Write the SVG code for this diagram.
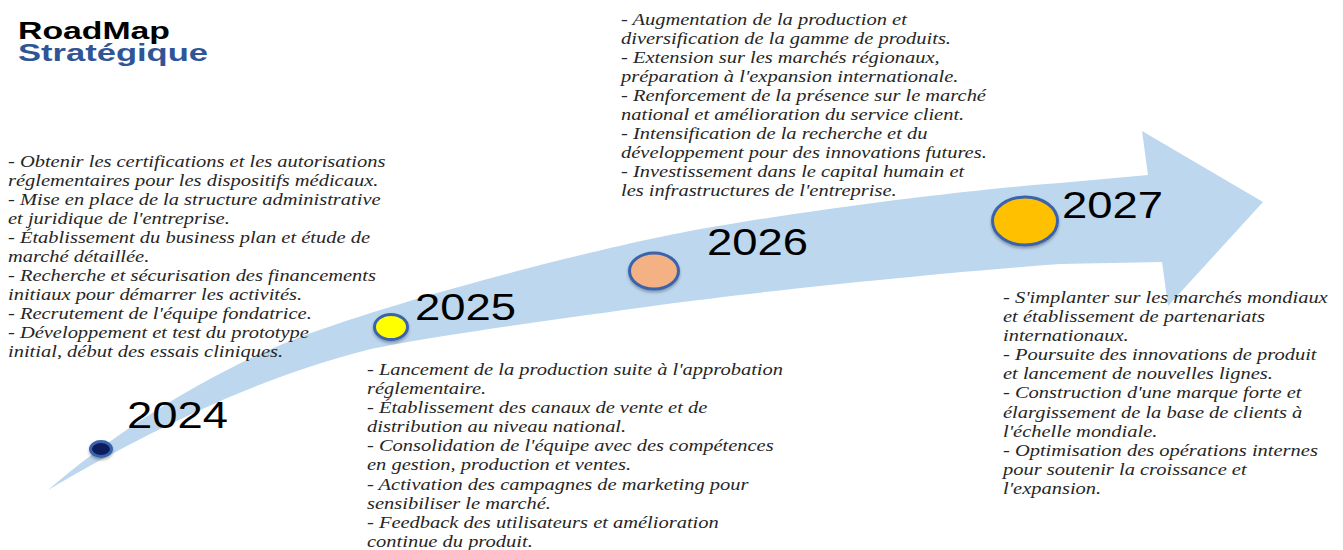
<svg xmlns="http://www.w3.org/2000/svg" width="1343" height="550" viewBox="0 0 1343 550">
  <defs>
    <filter id="dotShadow" x="-30%" y="-30%" width="160%" height="170%">
      <feDropShadow dx="0" dy="2" stdDeviation="1.5" flood-color="#000" flood-opacity="0.3"/>
    </filter>
  </defs>
  <style>
    .title { font-family: "Liberation Sans", Arial, sans-serif; font-weight: bold; font-size: 23px; }
    .year { font-family: "Liberation Sans", Arial, sans-serif; font-size: 36px; fill: #000; }
    .body { font-family: "Liberation Serif", "Times New Roman", serif; font-style: italic; font-size: 16px; fill: #262626; }
    .dot { stroke: #3a64ad; stroke-width: 3; filter: url(#dotShadow); }
    .band { fill: #bdd7ee; }
  </style>

  <rect width="1343" height="550" fill="#fff"/>

  <!-- title -->
  <g id="title">
    <text class="title" x="18" y="39" fill="#000" textLength="152" lengthAdjust="spacingAndGlyphs">RoadMap</text>
    <text class="title" x="18" y="61" fill="#2f5597" textLength="190" lengthAdjust="spacingAndGlyphs">Stratégique</text>
  </g>

  <!-- curved timeline arrow -->
  <g id="connectors">
    <path class="band" d="M48,490 C110,437 200,376 300,337 C400,300 560,258 660,237 C760,216 960,190 1060,183 L1148,175 L1142,131 L1263,202 L1168,306 L1162,262 L1060,264 C960,271 760,291 660,305 C560,319 430,336 367,350 C260,377 150,430 48,490 Z"/>
  </g>

  <!-- 2024 -->
  <g id="node-2024">
    <ellipse class="dot" cx="101" cy="449" rx="10.5" ry="7.5" fill="#0b1f5c"/>
    <text class="year" x="127" y="428" textLength="101" lengthAdjust="spacingAndGlyphs">2024</text>
    <g transform="translate(8,167) scale(1.28,1)">
      <text class="body">
        <tspan x="0" y="0">- Obtenir les certifications et les autorisations</tspan>
        <tspan x="0" dy="19">réglementaires pour les dispositifs médicaux.</tspan>
        <tspan x="0" dy="19">- Mise en place de la structure administrative</tspan>
        <tspan x="0" dy="19">et juridique de l'entreprise.</tspan>
        <tspan x="0" dy="19">- Établissement du business plan et étude de</tspan>
        <tspan x="0" dy="19">marché détaillée.</tspan>
        <tspan x="0" dy="19">- Recherche et sécurisation des financements</tspan>
        <tspan x="0" dy="19">initiaux pour démarrer les activités.</tspan>
        <tspan x="0" dy="19">- Recrutement de l'équipe fondatrice.</tspan>
        <tspan x="0" dy="19">- Développement et test du prototype</tspan>
        <tspan x="0" dy="19">initial, début des essais cliniques.</tspan>
      </text>
    </g>
  </g>

  <!-- 2025 -->
  <g id="node-2025">
    <ellipse class="dot" cx="391" cy="327" rx="16.5" ry="12.5" fill="#ffff00"/>
    <text class="year" x="415" y="320" textLength="101" lengthAdjust="spacingAndGlyphs">2025</text>
    <g transform="translate(367,375) scale(1.28,1)">
      <text class="body">
        <tspan x="0" y="0">- Lancement de la production suite à l'approbation</tspan>
        <tspan x="0" dy="19.1">réglementaire.</tspan>
        <tspan x="0" dy="19.1">- Établissement des canaux de vente et de</tspan>
        <tspan x="0" dy="19.1">distribution au niveau national.</tspan>
        <tspan x="0" dy="19.1">- Consolidation de l'équipe avec des compétences</tspan>
        <tspan x="0" dy="19.1">en gestion, production et ventes.</tspan>
        <tspan x="0" dy="19.1">- Activation des campagnes de marketing pour</tspan>
        <tspan x="0" dy="19.1">sensibiliser le marché.</tspan>
        <tspan x="0" dy="19.1">- Feedback des utilisateurs et amélioration</tspan>
        <tspan x="0" dy="19.1">continue du produit.</tspan>
      </text>
    </g>
  </g>

  <!-- 2026 -->
  <g id="node-2026">
    <ellipse class="dot" cx="654" cy="271" rx="24.5" ry="18" fill="#f4b183"/>
    <text class="year" x="707" y="255" textLength="101" lengthAdjust="spacingAndGlyphs">2026</text>
    <g transform="translate(621,25) scale(1.28,1)">
      <text class="body">
        <tspan x="0" y="0">- Augmentation de la production et</tspan>
        <tspan x="0" dy="19">diversification de la gamme de produits.</tspan>
        <tspan x="0" dy="19">- Extension sur les marchés régionaux,</tspan>
        <tspan x="0" dy="19">préparation à l'expansion internationale.</tspan>
        <tspan x="0" dy="19">- Renforcement de la présence sur le marché</tspan>
        <tspan x="0" dy="19">national et amélioration du service client.</tspan>
        <tspan x="0" dy="19">- Intensification de la recherche et du</tspan>
        <tspan x="0" dy="19">développement pour des innovations futures.</tspan>
        <tspan x="0" dy="19">- Investissement dans le capital humain et</tspan>
        <tspan x="0" dy="19">les infrastructures de l'entreprise.</tspan>
      </text>
    </g>
  </g>

  <!-- 2027 -->
  <g id="node-2027">
    <ellipse class="dot" cx="1025" cy="221" rx="32.5" ry="24" fill="#ffc000"/>
    <text class="year" x="1062" y="218" textLength="101" lengthAdjust="spacingAndGlyphs">2027</text>
    <g transform="translate(1003,303) scale(1.28,1)">
      <text class="body">
        <tspan x="0" y="0">- S'implanter sur les marchés mondiaux</tspan>
        <tspan x="0" dy="19.1">et établissement de partenariats</tspan>
        <tspan x="0" dy="19.1">internationaux.</tspan>
        <tspan x="0" dy="19.1">- Poursuite des innovations de produit</tspan>
        <tspan x="0" dy="19.1">et lancement de nouvelles lignes.</tspan>
        <tspan x="0" dy="19.1">- Construction d'une marque forte et</tspan>
        <tspan x="0" dy="19.1">élargissement de la base de clients à</tspan>
        <tspan x="0" dy="19.1">l'échelle mondiale.</tspan>
        <tspan x="0" dy="19.1">- Optimisation des opérations internes</tspan>
        <tspan x="0" dy="19.1">pour soutenir la croissance et</tspan>
        <tspan x="0" dy="19.1">l'expansion.</tspan>
      </text>
    </g>
  </g>
</svg>
